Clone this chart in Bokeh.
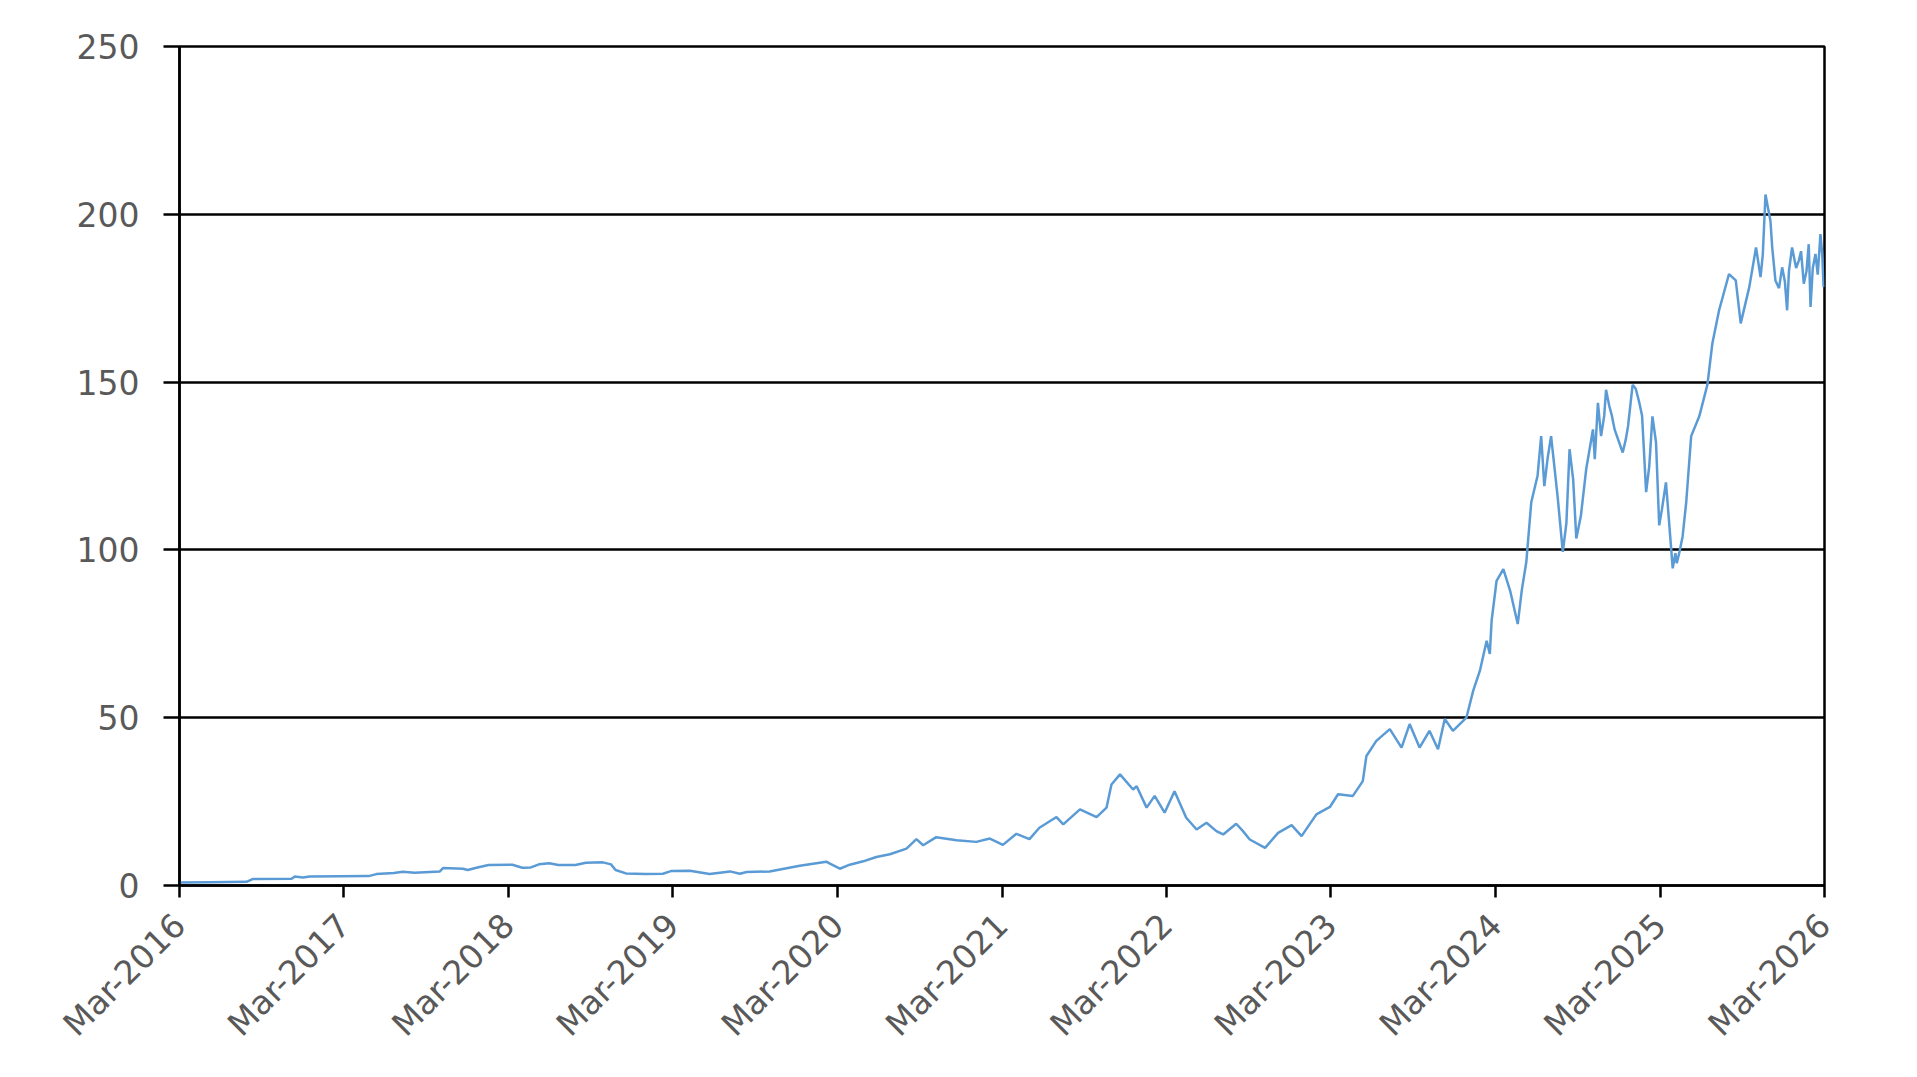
"""Daily share price, Mar-2016 to Mar-2026, drawn as a single line chart."""

from datetime import datetime

from bokeh.embed import file_html
from bokeh.models import DatetimeTickFormatter, FixedTicker, Range1d
from bokeh.plotting import figure
from bokeh.resources import INLINE

# Data (date, price)
dates = [
    "2016-03-01", "2016-05-10", "2016-07-28", "2016-08-10", "2016-11-05", "2016-11-12",
    "2016-11-30", "2016-12-15", "2017-04-25", "2017-05-12", "2017-06-20", "2017-07-10",
    "2017-08-05", "2017-09-30", "2017-10-07", "2017-11-20", "2017-12-01", "2017-12-20",
    "2018-01-16", "2018-03-10", "2018-04-01", "2018-04-20", "2018-05-08", "2018-05-31",
    "2018-06-20", "2018-07-28", "2018-08-20", "2018-09-27", "2018-10-15", "2018-10-25",
    "2018-11-17", "2018-12-31", "2019-02-07", "2019-02-25", "2019-04-08", "2019-05-22",
    "2019-07-06", "2019-07-28", "2019-08-12", "2019-10-02", "2019-12-08", "2020-02-05",
    "2020-02-13", "2020-03-06", "2020-03-28", "2020-04-27", "2020-05-26", "2020-06-25",
    "2020-08-01", "2020-08-23", "2020-09-07", "2020-10-06", "2020-11-20", "2021-01-03",
    "2021-02-02", "2021-03-03", "2021-04-02", "2021-05-01", "2021-05-23", "2021-06-30",
    "2021-07-15", "2021-08-21", "2021-09-27", "2021-10-19", "2021-10-30", "2021-11-18",
    "2021-12-17", "2021-12-25", "2022-01-16", "2022-02-03", "2022-02-25", "2022-03-19",
    "2022-04-14", "2022-05-07", "2022-05-29", "2022-06-20", "2022-07-05", "2022-08-03",
    "2022-08-18", "2022-09-02", "2022-10-06", "2022-11-04", "2022-12-04", "2022-12-26",
    "2023-01-28", "2023-02-27", "2023-03-17", "2023-04-19", "2023-05-11", "2023-05-19",
    "2023-06-10", "2023-07-10", "2023-08-05", "2023-08-23", "2023-09-14", "2023-10-06",
    "2023-10-25", "2023-11-09", "2023-11-27", "2023-12-27", "2024-01-11", "2024-01-26",
    "2024-02-10", "2024-02-17", "2024-02-21", "2024-03-03", "2024-03-18", "2024-04-02",
    "2024-04-19", "2024-04-28", "2024-05-08", "2024-05-19", "2024-06-02", "2024-06-10",
    "2024-06-17", "2024-06-24", "2024-07-02", "2024-07-10", "2024-07-17", "2024-07-28",
    "2024-08-05", "2024-08-12", "2024-08-20", "2024-08-27", "2024-09-06", "2024-09-18",
    "2024-10-03", "2024-10-07", "2024-10-14", "2024-10-21", "2024-10-28", "2024-11-01",
    "2024-11-08", "2024-11-14", "2024-11-20", "2024-12-08", "2024-12-15", "2024-12-20",
    "2024-12-30", "2025-01-06", "2025-01-14", "2025-01-20", "2025-01-29", "2025-02-05",
    "2025-02-12", "2025-02-20", "2025-02-27", "2025-03-05", "2025-03-14", "2025-03-20",
    "2025-03-29", "2025-04-04", "2025-04-07", "2025-04-13", "2025-04-20", "2025-04-28",
    "2025-05-09", "2025-05-27", "2025-06-14", "2025-06-25", "2025-07-10", "2025-08-01",
    "2025-08-16", "2025-08-27", "2025-09-15", "2025-09-30", "2025-10-10", "2025-10-15",
    "2025-10-21", "2025-11-01", "2025-11-05", "2025-11-12", "2025-11-20", "2025-11-27",
    "2025-12-03", "2025-12-08", "2025-12-12", "2025-12-19", "2025-12-28", "2026-01-03",
    "2026-01-08", "2026-01-14", "2026-01-20", "2026-01-25", "2026-01-29", "2026-02-03",
    "2026-02-09", "2026-02-14", "2026-02-20", "2026-02-24", "2026-02-27",
]
prices = [
    0.9, 1.0, 1.1, 1.9, 2.0, 2.7,
    2.4, 2.7, 2.8, 3.4, 3.7, 4.1,
    3.8, 4.2, 5.2, 5.0, 4.6, 5.3,
    6.1, 6.2, 5.3, 5.4, 6.3, 6.6,
    6.1, 6.1, 6.8, 6.9, 6.3, 4.6,
    3.6, 3.4, 3.5, 4.3, 4.4, 3.4,
    4.2, 3.5, 4.0, 4.2, 5.9, 7.1,
    6.5, 5.0, 6.2, 7.2, 8.5, 9.3,
    11.0, 13.8, 12.0, 14.4, 13.5, 13.0,
    14.0, 12.1, 15.4, 13.8, 17.2, 20.4,
    18.2, 22.7, 20.4, 23.2, 30.1, 33.1,
    28.6, 29.6, 23.2, 26.7, 21.7, 28.1,
    20.2, 16.7, 18.7, 16.2, 15.2, 18.4,
    16.2, 13.7, 11.2, 15.7, 18.0, 14.7,
    21.2, 23.4, 27.2, 26.7, 31.1, 38.6,
    43.1, 46.6, 41.1, 48.1, 41.1, 46.1,
    40.6, 49.6, 46.1, 50.0, 58.0, 64.0,
    72.9, 69.0, 78.9, 90.8, 94.3, 87.9,
    77.9, 88.0, 96.4, 114.2, 122.1, 133.9,
    119.0, 127.0, 133.9, 124.0, 115.2, 99.4,
    108.0, 130.0, 121.0, 103.4, 110.0, 124.1,
    135.9, 127.0, 143.8, 133.9, 140.0, 147.7,
    143.0, 140.0, 135.9, 129.0, 133.0, 137.0,
    149.2, 148.0, 143.8, 140.0, 117.2, 125.0,
    139.8, 132.0, 107.3, 112.0, 120.1, 110.0,
    94.5, 99.0, 96.0, 99.4, 104.0, 114.2,
    133.9, 139.8, 149.2, 161.5, 171.4, 182.2,
    180.3, 167.5, 178.3, 190.1, 181.3, 188.0,
    205.9, 198.0, 190.0, 180.3, 178.0, 184.2,
    180.0, 171.4, 183.0, 190.1, 184.0, 186.2,
    189.0, 179.3, 183.0, 191.1, 172.4, 184.0,
    188.2, 182.0, 194.1, 188.0, 178.3,
]

# Axis ticks
x_tick_dates = ["2016-03-01", "2017-03-01", "2018-03-01", "2019-03-01", "2020-03-01",
                "2021-03-01", "2022-03-01", "2023-03-01", "2024-03-01", "2025-03-01",
                "2026-03-01"]
y_ticks = [0, 50, 100, 150, 200, 250]

x = [datetime.fromisoformat(d) for d in dates]
x_ticks = [datetime.fromisoformat(d).timestamp() * 1000 for d in x_tick_dates]

p = figure(
    width=1900,
    height=1060,
    x_axis_type="datetime",
    output_backend="svg",
    toolbar_location=None,
    min_border_left=179,
    min_border_right=76,
    min_border_top=46,
    min_border_bottom=172,
)
p.x_range = Range1d(start=datetime(2016, 3, 1), end=datetime(2026, 3, 1))
p.y_range = Range1d(start=0, end=250)

p.line(x, prices, line_color="#5b9bd5", line_width=2.5)

# Frame and grid
p.outline_line_color = "black"
p.outline_line_width = 2.5
p.xgrid.visible = False
p.ygrid.ticker = FixedTicker(ticks=y_ticks)
p.ygrid.grid_line_color = "black"
p.ygrid.grid_line_width = 2.5

# Axes
p.xaxis.ticker = FixedTicker(ticks=x_ticks)
p.xaxis.formatter = DatetimeTickFormatter(days="%b-%Y", months="%b-%Y", years="%b-%Y")
p.xaxis.major_label_orientation = 0.785398
p.xaxis.major_tick_out = 12
p.xaxis.major_label_standoff = 22

p.yaxis.ticker = FixedTicker(ticks=y_ticks)
p.yaxis.major_tick_out = 16
p.yaxis.major_label_standoff = 24

for ax in (p.xaxis, p.yaxis):
    ax.axis_line_color = "black"
    ax.axis_line_width = 2.5
    ax.major_tick_line_color = "black"
    ax.major_tick_line_width = 2.5
    ax.major_tick_in = 0
    ax.minor_tick_line_color = None
    ax.major_label_text_font = "DejaVu Sans"
    ax.major_label_text_font_size = "33px"
    ax.major_label_text_color = "#595959"

open("out.html", "w").write(file_html(p, INLINE))
